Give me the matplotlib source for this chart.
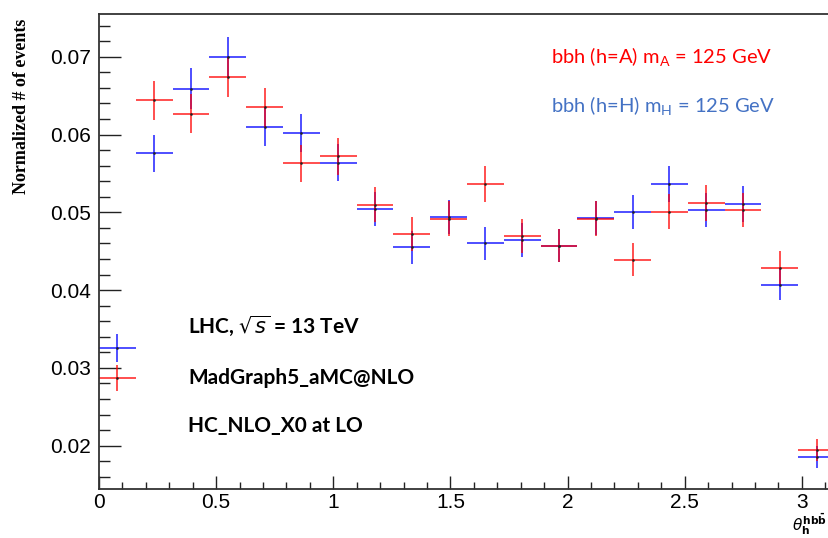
import numpy as np
import matplotlib
matplotlib.use("Agg")
import matplotlib.pyplot as plt
from matplotlib.ticker import MultipleLocator

# ---- data ----
n_bins = 20
red_vals = [0.0287, 0.0644, 0.0627, 0.0674, 0.0635, 0.0563, 0.0572, 0.0510, 0.0472, 0.0492,
            0.0536, 0.0470, 0.0457, 0.0492, 0.0439, 0.0501, 0.0512, 0.0503, 0.0429, 0.0195]
red_errs = [0.0017, 0.0025, 0.0025, 0.0026, 0.0025, 0.0024, 0.0024, 0.0023, 0.0022, 0.0022,
            0.0023, 0.0022, 0.0021, 0.0022, 0.0021, 0.0022, 0.0023, 0.0022, 0.0021, 0.0014]
blue_vals = [0.0326, 0.0576, 0.0659, 0.0699, 0.0610, 0.0602, 0.0564, 0.0504, 0.0455, 0.0494,
             0.0460, 0.0464, 0.0457, 0.0493, 0.0500, 0.0536, 0.0503, 0.0511, 0.0407, 0.0186]
blue_errs = [0.0018, 0.0024, 0.0026, 0.0026, 0.0025, 0.0025, 0.0024, 0.0022, 0.0021, 0.0022,
             0.0021, 0.0022, 0.0021, 0.0022, 0.0022, 0.0023, 0.0022, 0.0023, 0.0020, 0.0014]
x_ticks = [0, 0.5, 1, 1.5, 2, 2.5, 3]
x_tick_labels = ["0", "0.5", "1", "1.5", "2", "2.5", "3"]
y_ticks = [0.02, 0.03, 0.04, 0.05, 0.06, 0.07]
y_tick_labels = ["0.02", "0.03", "0.04", "0.05", "0.06", "0.07"]

edges = np.linspace(0, np.pi, n_bins + 1)
centers = 0.5 * (edges[:-1] + edges[1:])
halfw = 0.5 * (edges[1] - edges[0])

W, H = 829, 538
fig = plt.figure(figsize=(W / 100, H / 100), dpi=100)
ax = fig.add_axes([99 / W, 1 - 489.3 / H, (np.pi * 234.3) / W, (489.3 - 14) / H])

ax.errorbar(centers, blue_vals, xerr=halfw, yerr=blue_errs, fmt='none',
            ecolor='#0000ff', elinewidth=1.3, capsize=0, alpha=0.75)
ax.errorbar(centers, red_vals, xerr=halfw, yerr=red_errs, fmt='none',
            ecolor='#ff0000', elinewidth=1.3, capsize=0, alpha=0.75)
ax.plot(centers, blue_vals, ls='none', marker='s', ms=0.8, color='#222222')
ax.plot(centers, red_vals, ls='none', marker='s', ms=0.8, color='#222222')

ax.set_xlim(0, np.pi)
ax.set_ylim(0.0144, 0.07549)

ax.set_xticks(x_ticks)
ax.set_xticklabels(x_tick_labels)
ax.set_yticks(y_ticks)
ax.set_yticklabels(y_tick_labels)
ax.xaxis.set_minor_locator(MultipleLocator(0.1))
ax.yaxis.set_minor_locator(MultipleLocator(0.002))

ax.tick_params(axis='both', which='both', direction='in', color='#222222', width=1.0)
ax.tick_params(axis='y', which='major', length=16, pad=6)
ax.tick_params(axis='y', which='minor', length=8)
ax.tick_params(axis='x', which='major', length=9.5, pad=3)
ax.tick_params(axis='x', which='minor', length=5)
ax.tick_params(axis='both', which='major', labelsize=15)
for lab in ax.get_xticklabels() + ax.get_yticklabels():
    lab.set_fontfamily('Liberation Sans')

for s in ['top', 'left', 'bottom', 'right']:
    ax.spines[s].set_linewidth(1.3)
    ax.spines[s].set_color('#333333')

# y label
fig.text(22 / W, 1 - 106 / H, "Normalized # of events", rotation=90,
         ha='center', va='center', fontsize=13, fontweight='bold',
         family='Liberation Serif')

# x label
fig.text(792 / W, 1 - 537 / H, r"$\theta_{\mathbf{h}}^{\mathbf{hb\bar{b}}}$",
         ha='left', va='bottom', fontsize=11, family='Liberation Serif')

# annotations
fig.text(551 / W, 1 - 57 / H, r"bbh (h=A) m$_\mathregular{A}$ = 125 GeV", color='#ff0000',
         ha='left', va='center', fontsize=14.5, family='Lato')
fig.text(551 / W, 1 - 106 / H, r"bbh (h=H) m$_\mathregular{H}$ = 125 GeV", color='#4472c4',
         ha='left', va='center', fontsize=14.5, family='Lato')

fig.text(188 / W, 1 - 326 / H, r"LHC, $\sqrt{s}$ = 13 TeV", ha='left', va='center',
         fontsize=15, fontweight='bold', family='Lato')
fig.text(188 / W, 1 - 377.7 / H, "MadGraph5_aMC@NLO", ha='left', va='center',
         fontsize=15, fontweight='bold', family='Lato')
fig.text(188 / W, 1 - 426 / H, "HC_NLO_X0 at LO", ha='left', va='center',
         fontsize=15, fontweight='bold', family='Lato')

fig.savefig("out.png", dpi=100)
